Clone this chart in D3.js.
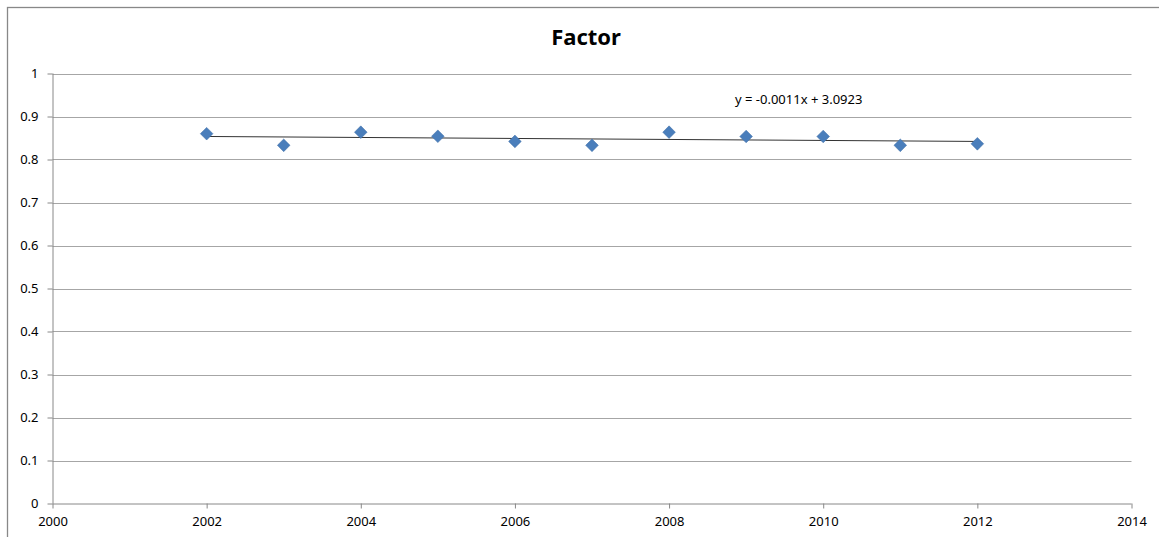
<!DOCTYPE html>
<html>
<head>
<meta charset="utf-8">
<script src="https://cdn.jsdelivr.net/npm/d3@7"></script>
<style>
  body { margin: 0; background: #fff; }
  text { font-family: "Noto Sans", sans-serif; fill: #000; }
</style>
</head>
<body>
<div id="chart"></div>
<script>
var width = 1159, height = 537;

// data
var years = [2002, 2003, 2004, 2005, 2006, 2007, 2008, 2009, 2010, 2011, 2012];
var factor = [0.860, 0.833, 0.8635, 0.854, 0.842, 0.833, 0.8635, 0.8535, 0.8535, 0.833, 0.8365];
var xTicks = [2000, 2002, 2004, 2006, 2008, 2010, 2012, 2014];
var yTicks = [0, 0.1, 0.2, 0.3, 0.4, 0.5, 0.6, 0.7, 0.8, 0.9, 1];
var title = "Factor";
var eqLabel = "y = -0.0011x + 3.0923";

var plot = {left: 52.5, right: 1131.5, top: 73.5, bottom: 503.5};

var xScale = d3.scaleLinear().domain([2000, 2014]).range([plot.left, plot.right]);
var yScale = d3.scaleLinear().domain([0, 1]).range([plot.bottom, plot.top]);

var svg = d3.select("#chart").append("svg")
  .attr("width", width)
  .attr("height", height)
  .style("display", "block");

// chart border (only top/left visible)
svg.append("rect")
  .attr("x", 7.5).attr("y", 7.5)
  .attr("width", width + 10).attr("height", height + 10)
  .style("fill", "none")
  .style("stroke", "#888")
  .style("stroke-width", 1.3);

// horizontal gridlines
svg.append("g")
  .selectAll("line")
  .data(yTicks.filter(function(d){ return d > 0; }))
  .enter().append("line")
  .attr("x1", plot.left).attr("x2", plot.right)
  .attr("y1", function(d){ return Math.round(yScale(d)) + 0.5; })
  .attr("y2", function(d){ return Math.round(yScale(d)) + 0.5; })
  .style("stroke", "#a6a6a6");

// y axis
var yAxis = svg.append("g")
  .attr("transform", "translate(" + plot.left + ",0)")
  .call(d3.axisLeft(yScale).tickValues(yTicks).tickSize(5).tickPadding(9)
    .tickFormat(function(d){ return d3.format("~g")(d); }));
yAxis.selectAll("line, path").style("stroke", "#888");
yAxis.select(".domain").attr("d", "M0.5," + plot.top + "V" + plot.bottom);
yAxis.selectAll("text").style("font-size", "13px").style("font-family", "Noto Sans");

// x axis
var xAxis = svg.append("g")
  .attr("transform", "translate(0," + plot.bottom + ")")
  .call(d3.axisBottom(xScale).tickValues(xTicks).tickSize(5).tickPadding(8)
    .tickFormat(d3.format("d")));
xAxis.selectAll("line, path").style("stroke", "#888");
xAxis.select(".domain").attr("d", "M" + plot.left + ",0.5H" + plot.right);
xAxis.selectAll("text").style("font-size", "13px").style("font-family", "Noto Sans");

// linear trendline (least squares)
var mx = d3.mean(years), my = d3.mean(factor);
var sxy = d3.sum(years, function(d, i){ return (d - mx) * (factor[i] - my); });
var sxx = d3.sum(years, function(d){ return (d - mx) * (d - mx); });
var slope = sxy / sxx, icpt = my - slope * mx;
var ends = [d3.min(years), d3.max(years)];

svg.append("path")
  .datum(ends)
  .attr("d", d3.line()
    .x(function(d){ return xScale(d); })
    .y(function(d){ return yScale(slope * d + icpt); }))
  .style("fill", "none")
  .style("stroke", "#333")
  .style("stroke-width", 1);

// diamond markers
svg.append("g")
  .selectAll("path")
  .data(years)
  .enter().append("path")
  .attr("d", d3.symbol().type(d3.symbolSquare).size(80))
  .attr("transform", function(d, i){
    return "translate(" + xScale(d) + "," + yScale(factor[i]) + ") rotate(45)";
  })
  .style("fill", "#4a7ebb")
  .style("stroke", "#3f6fa8")
  .style("stroke-width", 0.5);

// title
svg.append("text")
  .attr("x", 586)
  .attr("y", 45)
  .attr("text-anchor", "middle")
  .style("font-size", "22px")
  .style("font-weight", "bold")
  .text(title);

// trendline equation
svg.append("text")
  .attr("x", 735)
  .attr("y", 104)
  .style("font-size", "13px")
  .text(eqLabel);
</script>
</body>
</html>
